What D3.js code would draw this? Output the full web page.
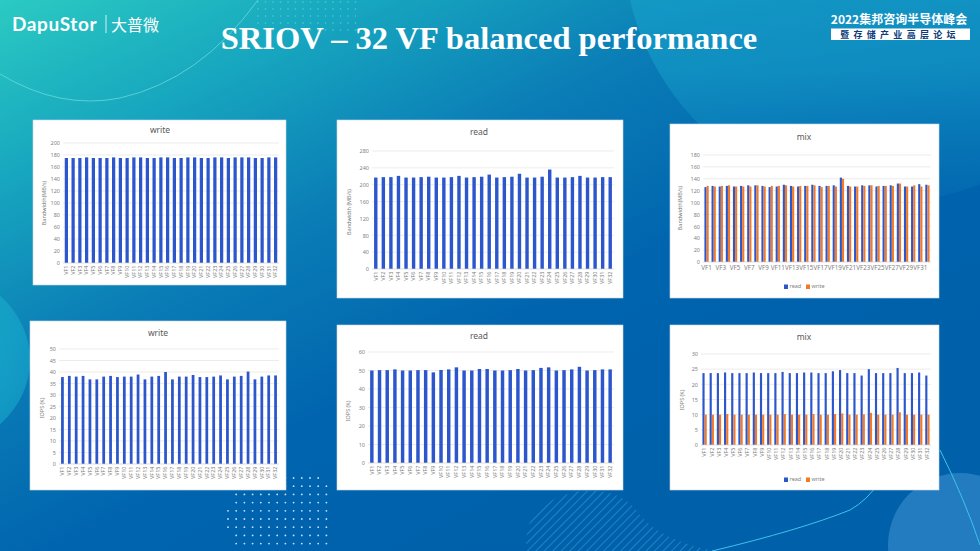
<!DOCTYPE html>
<html><head><meta charset="utf-8">
<script src="https://cdn.jsdelivr.net/npm/d3@7"></script>
<style>html,body{margin:0;padding:0;background:#0063ad;}svg{display:block;}</style>
</head><body>
<svg id="c" width="980" height="551"></svg>
<script>
// ---------------- DATA ----------------
const categories = ["VF1","VF2","VF3","VF4","VF5","VF6","VF7","VF8","VF9","VF10","VF11","VF12","VF13","VF14","VF15","VF16",
  "VF17","VF18","VF19","VF20","VF21","VF22","VF23","VF24","VF25","VF26","VF27","VF28","VF29","VF30","VF31","VF32"];

const writeBW = [175,175,175,176,175,175,175,176,175,175,176,176,175,175,176,176,175,175,176,176,175,175,176,176,175,176,176,176,175,175,176,176];
const readBW  = [217,218,218,221,217,217,218,219,217,217,218,221,217,218,219,224,217,218,219,226,217,217,219,236,217,217,218,221,217,217,218,218];
const mixReadBW  = [126,128,127,128,127,128,129,129,128,126,127,130,128,127,128,130,128,128,129,142,128,127,129,129,127,128,129,132,127,127,131,130];
const mixWriteBW = [128,127,128,129,127,127,127,129,127,128,128,129,127,128,128,129,126,128,127,140,127,127,128,129,128,128,128,132,127,129,127,129];

const writeIOPS = [37.8,38.3,38,38.3,36.8,36.8,38,38.3,37.8,38,38,38.9,36.8,38,38.3,40,36.8,38,38,38.7,37.8,37.8,38,38.5,36.8,38,38.3,40.2,36.8,38,38.5,38.5];
const readIOPS  = [50,50.2,50.2,50.6,50,50,50.2,50.2,49,50.3,50.6,51.7,50,50,50.8,50.8,50,50,50.2,50.8,50,50.2,51.4,51.7,50,50.2,50.6,52,50,50.2,50.6,50.6];
const mixReadIOPS  = [23.7,23.7,23.7,23.9,23.7,23.7,23.7,23.9,23.7,23.7,23.7,24.1,23.7,23.7,23.9,23.9,23.7,23.7,24.3,24.7,23.7,23.7,22.9,25,23.7,23.7,23.7,25.4,23.7,23.7,23.9,22.9];
const mixWriteIOPS = [10,10,10,10.2,10,10,10,10,10,10,10,10.2,10,10,10,10.2,10,10,10.2,10.4,10,10,10.1,10.6,10,10,10,10.8,10,10,10,10];

const ticksWriteBW = [0,20,40,60,80,100,120,140,160,180,200];
const ticksReadBW  = [0,40,80,120,160,200,240,280];
const ticksMixBW   = [0,20,40,60,80,100,120,140,160,180];
const ticksWriteIOPS = [0,5,10,15,20,25,30,35,40,45,50];
const ticksReadIOPS  = [0,10,20,30,40,50,60];
const ticksMixIOPS   = [0,5,10,15,20,25,30];

const seriesNames = ["read","write"];
const panelTitles = ["write","read","mix","write","read","mix"];
const yLabels = ["Bandwidth(MB/s)","Bandwidth (MB/s)","Bandwidth(MB/s)","IOPS (K)","IOPS (K)","IOPS (K)"];
const slideTitle = "SRIOV – 32 VF balanced performance";

// ---------------- STYLE ----------------
const BLUE = "#2c56cc", ORANGE = "#f07a2a";
const FONT = "'Noto Sans', 'Open Sans', sans-serif";
const svg = d3.select("#c");
const defs = svg.append("defs");

// background
const bg = defs.append("linearGradient").attr("id","bg").attr("x1",0).attr("y1",0).attr("x2",0.75).attr("y2",0.85);
bg.append("stop").attr("offset",0).attr("stop-color","#2bcac2");
bg.append("stop").attr("offset",0.22).attr("stop-color","#17a6bf");
bg.append("stop").attr("offset",0.45).attr("stop-color","#0a7cb6");
bg.append("stop").attr("offset",0.7).attr("stop-color","#0064ae");
bg.append("stop").attr("offset",1).attr("stop-color","#0060aa");
svg.append("rect").attr("width",980).attr("height",551).attr("fill","url(#bg)");

const cg = defs.append("linearGradient").attr("id","cg").attr("x1",0).attr("y1",0).attr("x2",0).attr("y2",1);
cg.append("stop").attr("offset",0).attr("stop-color","#1cb9d0").attr("stop-opacity",0.95);
cg.append("stop").attr("offset",0.75).attr("stop-color","#1398c6").attr("stop-opacity",0.7);
cg.append("stop").attr("offset",1).attr("stop-color","#0a78b8").attr("stop-opacity",0.3);
svg.append("circle").attr("cx",885).attr("cy",-60).attr("r",262).attr("fill","url(#cg)");

// left lighter shape
const lg = defs.append("radialGradient").attr("id","lg");
lg.append("stop").attr("offset",0).attr("stop-color","#1ab3d0").attr("stop-opacity",0.9);
lg.append("stop").attr("offset",1).attr("stop-color","#1ab3d0").attr("stop-opacity",0.5);
svg.append("ellipse").attr("cx",-70).attr("cy",360).attr("rx",100).attr("ry",90).attr("fill","url(#lg)");

// top-left arc line
svg.append("path").attr("d","M0,74 Q60,110 120,98 Q200,80 258,0").attr("fill","none").attr("stroke","#6fe0e0").attr("stroke-opacity",0.7).attr("stroke-width",1);

// bottom right circle + line
svg.append("circle").attr("cx",960).attr("cy",545).attr("r",72).attr("fill","#3b8fce").attr("opacity",0.6);
svg.append("path").attr("d","M712,551 Q800,530 850,510 Q885,490 895,440").attr("fill","none").attr("stroke","#3fc3ea").attr("stroke-width",1);
svg.append("path").attr("d","M940,450 Q965,500 980,545").attr("fill","none").attr("stroke","#3fc3ea").attr("stroke-width",1);

// dot patterns
const dots1 = [];
for (let r=0;r<5;r++) for (let c=0;c<14;c++) dots1.push([258+c*7.5, 2+r*7]);
svg.append("g").selectAll("circle").data(dots1).join("circle").attr("cx",d=>d[0]).attr("cy",d=>d[1]).attr("r",0.8).attr("fill","#7fe3ff").attr("opacity",0.55);
const dots2 = [];
for (let r=0;r<9;r++) for (let c=0;c<13;c++) { const x=228+c*8.2, y=478+r*8.2; if (Math.hypot(x-285,y-520)<58) dots2.push([x,y]); }
svg.append("g").selectAll("circle").data(dots2).join("circle").attr("cx",d=>d[0]).attr("cy",d=>d[1]).attr("r",0.9).attr("fill","#ffffff").attr("opacity",0.8);

// hatch blob
const hp = defs.append("pattern").attr("id","hatch").attr("patternUnits","userSpaceOnUse").attr("width",6).attr("height",6).attr("patternTransform","rotate(45)");
hp.append("line").attr("x1",0).attr("y1",0).attr("x2",0).attr("y2",6).attr("stroke","#3cb0e0").attr("stroke-width",1.2);
svg.append("path").attr("d","M527,551 Q520,505 575,492 Q620,485 640,515 Q660,540 715,551 Z").attr("fill","url(#hatch)").attr("opacity",0.8);

// logo
svg.append("text").attr("x",12).attr("y",31).attr("fill","#fff").attr("font-family","'Lato','Open Sans',sans-serif").attr("font-weight",700)
  .attr("font-size",19).attr("letter-spacing",0.6).text("DapuStor");
svg.append("line").attr("x1",106).attr("x2",106).attr("y1",15).attr("y2",33).attr("stroke","#fff").attr("stroke-width",0.8);
svg.append("text").attr("x",111).attr("y",31).attr("fill","#fff").attr("font-family","'Noto Sans CJK SC',sans-serif").attr("font-size",16).text("大普微");

// title
svg.append("text").attr("x",489).attr("y",49).attr("text-anchor","middle").attr("fill","#fff")
  .attr("font-family","'Liberation Serif','Times New Roman',serif").attr("font-weight",700).attr("font-size",32.5).text(slideTitle);

// top-right badge
svg.append("text").attr("x",899).attr("y",24).attr("text-anchor","middle").attr("fill","#fff")
  .attr("font-family","'Noto Sans CJK SC',sans-serif").attr("font-weight",700).attr("font-size",12).text("2022集邦咨询半导体峰会");
svg.append("rect").attr("x",831).attr("y",28.5).attr("width",139).attr("height",11.5).attr("fill","#fff");
svg.append("text").attr("x",900).attr("y",38).attr("text-anchor","middle").attr("fill","#0c3a7a")
  .attr("font-family","'Noto Sans CJK SC',sans-serif").attr("font-weight",700).attr("font-size",9).attr("letter-spacing",4.3).text("暨存储产业高层论坛");

// ---------------- PANELS ----------------
function panel(o) {
  const g = svg.append("g");
  g.append("rect").attr("x",o.box[0]).attr("y",o.box[1]).attr("width",o.box[2]).attr("height",o.box[3])
    .attr("fill","#fff").attr("stroke","#c9d6e6").attr("stroke-width",0.6);
  g.append("text").attr("x",o.title[0]).attr("y",o.title[1]).attr("text-anchor","middle").attr("dominant-baseline","middle")
    .attr("font-family",FONT).attr("font-size",8.5).attr("fill","#595959").text(o.titleText);

  const y = d3.scaleLinear().domain([0, o.ticks[o.ticks.length-1]]).range([o.py[0], o.py[1]]);
  const x = d3.scaleBand().domain(categories).range([o.px[0], o.px[1]]).paddingInner(o.pad).paddingOuter(o.pad/2);

  // grid
  g.append("g").selectAll("line").data(o.ticks.slice(1)).join("line")
    .attr("x1",o.px[0]).attr("x2",o.px[1]).attr("y1",d=>y(d)).attr("y2",d=>y(d)).attr("stroke","#e4e4e4").attr("stroke-width",0.7);
  // y axis labels via d3 axis
  const ya = g.append("g").attr("transform",`translate(${o.px[0]-2},0)`)
    .call(d3.axisLeft(y).tickValues(o.ticks).tickSize(0).tickPadding(1));
  ya.select(".domain").remove();
  ya.selectAll("text").attr("font-family",FONT).attr("font-size",5.5).attr("fill","#7f7f7f");
  // y label
  g.append("text").attr("transform",`translate(${o.yl[0]},${o.yl[1]}) rotate(-90)`).attr("text-anchor","middle")
    .attr("dominant-baseline","middle").attr("font-family",FONT).attr("font-size",5.5).attr("fill","#7f7f7f").text(o.ylabel);

  // bars
  const ns = o.series.length;
  const sub = d3.scaleBand().domain(d3.range(ns)).range([0, x.bandwidth()]).paddingInner(0);
  o.series.forEach((s, si) => {
    g.append("g").selectAll("rect").data(s).join("rect")
      .attr("x",(d,i)=>x(categories[i]) + sub(si)).attr("width",sub.bandwidth())
      .attr("y",d=>y(d)).attr("height",d=>y(0)-y(d)).attr("fill",o.colors[si]);
  });
  // baseline
  g.append("line").attr("x1",o.px[0]).attr("x2",o.px[1]).attr("y1",y(0)).attr("y2",y(0)).attr("stroke","#d0d0d0").attr("stroke-width",0.7);

  // x labels
  const xa = g.append("g").attr("transform",`translate(0,${y(0)})`).call(d3.axisBottom(x).tickSize(0).tickPadding(2));
  xa.select(".domain").remove();
  xa.selectAll("text").attr("font-family",FONT).attr("font-size",5.5).attr("fill","#7f7f7f");
  if (o.rotate) {
    xa.selectAll("text").attr("transform","rotate(-90)").attr("text-anchor","end").attr("dy","0.32em").attr("x",-2.5).attr("y",0);
  } else {
    xa.selectAll(".tick").filter((d,i)=>i%2===1).remove();
    xa.selectAll("text").attr("font-size",6.2).attr("dy","0.9em");
  }
  // legend
  if (o.legend) {
    const lgd = g.append("g").attr("transform",`translate(${o.legend[0]},${o.legend[1]})`);
    seriesNames.forEach((n,i)=>{
      const ox = i*22 - 22;
      lgd.append("rect").attr("x",ox).attr("y",-2.5).attr("width",4).attr("height",4.5).attr("fill",o.colors[i]);
      lgd.append("text").attr("x",ox+5.5).attr("y",0).attr("dominant-baseline","middle").attr("font-family",FONT)
        .attr("font-size",5.5).attr("fill","#7f7f7f").text(n);
    });
  }
}

panel({box:[33,120,253,165], title:[160,131], titleText:panelTitles[0], px:[63,279], py:[263,143], ticks:ticksWriteBW,
  yl:[45,203], ylabel:yLabels[0], series:[writeBW], colors:[BLUE], pad:0.52, rotate:true});
panel({box:[337,120,286,178], title:[479,133], titleText:panelTitles[1], px:[372,614], py:[269,151], ticks:ticksReadBW,
  yl:[350,212], ylabel:yLabels[1], series:[readBW], colors:[BLUE], pad:0.55, rotate:true});
panel({box:[670,124,269,174], title:[804,138], titleText:panelTitles[2], px:[703,931], py:[262,155], ticks:ticksMixBW,
  yl:[681,208], ylabel:yLabels[2], series:[mixReadBW, mixWriteBW], colors:[BLUE, ORANGE], pad:0.4, rotate:false, legend:[806,287]});
panel({box:[30,321,256,169], title:[158,334], titleText:panelTitles[3], px:[59,279], py:[464,349], ticks:ticksWriteIOPS,
  yl:[43,408], ylabel:yLabels[3], series:[writeIOPS], colors:[BLUE], pad:0.6, rotate:true});
panel({box:[337,325,286,165], title:[479,337], titleText:panelTitles[4], px:[368,614], py:[463,352], ticks:ticksReadIOPS,
  yl:[349,411], ylabel:yLabels[4], series:[readIOPS], colors:[BLUE], pad:0.55, rotate:true});
panel({box:[670,325,269,165], title:[804,338], titleText:panelTitles[5], px:[701,931], py:[445,354], ticks:ticksMixIOPS,
  yl:[683,400], ylabel:yLabels[5], series:[mixReadIOPS, mixWriteIOPS], colors:[BLUE, ORANGE], pad:0.4, rotate:true, legend:[806,480]});
</script>
</body></html>
